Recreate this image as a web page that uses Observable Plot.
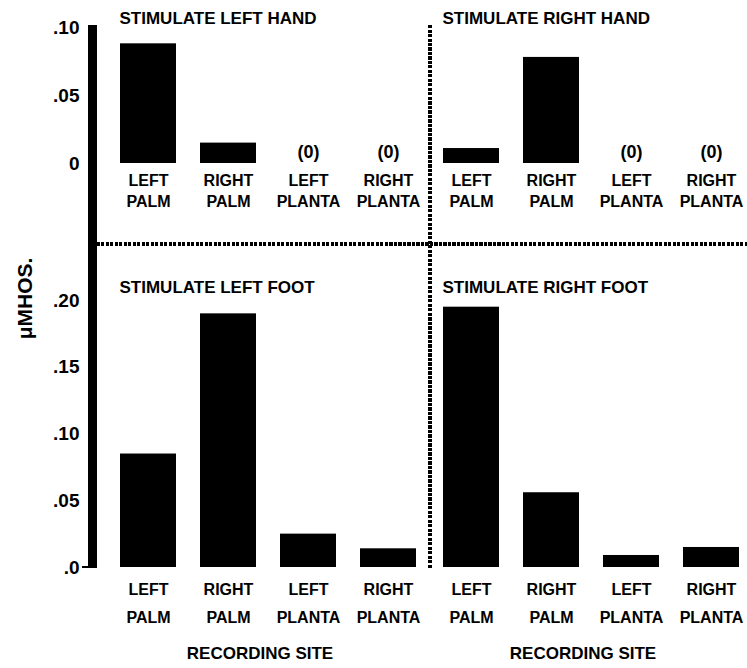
<!DOCTYPE html>
<html>
<head>
<meta charset="utf-8">
<script src="https://cdn.jsdelivr.net/npm/d3@7"></script>
<script src="https://cdn.jsdelivr.net/npm/@observablehq/plot@0.6"></script>
<style>
  html, body { margin: 0; padding: 0; background: white; }
  #chart { position: relative; width: 747px; height: 668px; overflow: hidden; background: white; }
  #chart > svg, #chart > figure { position: absolute; left: 0; margin: 0; }
  .deco { position: absolute; }
</style>
</head>
<body>
<div id="chart"></div>
<script>
// ---- data ----
const sites = ["LEFT PALM", "RIGHT PALM", "LEFT PLANTA", "RIGHT PLANTA"];
const topStimuli = ["LEFT HAND", "RIGHT HAND"];
const bottomStimuli = ["LEFT FOOT", "RIGHT FOOT"];
const stimLeftHand  = [0.088, 0.015, 0, 0];
const stimRightHand = [0.011, 0.078, 0, 0];
const stimLeftFoot  = [0.085, 0.190, 0.025, 0.014];
const stimRightFoot = [0.195, 0.056, 0.009, 0.015];
const topTicks = [0, 0.05, 0.10];
const topTickLabels = ["0", ".05", ".10"];
const bottomTicks = [0, 0.05, 0.10, 0.15, 0.20];
const bottomTickLabels = [".0", ".05", ".10", ".15", ".20"];
const yLabel = "μMHOS.";
const xLabel = "RECORDING SITE";
const titlePrefix = "STIMULATE ";

const topRows = topStimuli.flatMap((s, i) =>
  sites.map((site, j) => ({stim: s, site, value: [stimLeftHand, stimRightHand][i][j]})));
const bottomRows = bottomStimuli.flatMap((s, i) =>
  sites.map((site, j) => ({stim: s, site, value: [stimLeftFoot, stimRightFoot][i][j]})));

const font = "'Liberation Sans', Arial, Helvetica, sans-serif";
const baseStyle = {fontFamily: font, fontWeight: "bold", maxWidth: "none", background: "transparent", color: "black", overflow: "visible"};

const topPlot = Plot.plot({
  width: 752, height: 240,
  marginLeft: 105, marginRight: 0, marginTop: 27, marginBottom: 77,
  style: baseStyle,
  fx: {domain: topStimuli, padding: 0, axis: null, label: null},
  x: {domain: sites, paddingInner: 0.3, paddingOuter: 0.15, label: null},
  y: {domain: [0, 0.1], label: null},
  marks: [
    Plot.barY(topRows, {fx: "stim", x: "site", y: "value", fill: "black"}),
    Plot.text(topRows.filter(d => d.value === 0), {fx: "stim", x: "site", y: "value", text: () => "(0)", dy: -11, fontSize: 18, fontWeight: "bold"}),
    Plot.axisX({tickSize: 0, tickPadding: 7, fontSize: 16, lineHeight: 1.35, fontWeight: "bold", label: null, tickFormat: d => d.replace(" ", "\n")}),
    Plot.axisY({ticks: topTicks, tickFormat: d => topTickLabels[topTicks.indexOf(d)], tickSize: 0, tickPadding: 27, fontSize: 19, fontWeight: "bold", label: null}),
    Plot.text(topStimuli, {fx: d => d, text: d => titlePrefix + d, frameAnchor: "top-left", lineAnchor: "middle", textAnchor: "start", dx: 13, dy: -8.5, fontSize: 17, fontWeight: "bold"})
  ]
});

const bottomPlot = Plot.plot({
  width: 752, height: 428,
  marginLeft: 105, marginRight: 0, marginTop: 60, marginBottom: 101,
  style: baseStyle,
  fx: {domain: bottomStimuli, padding: 0, label: null},
  x: {domain: sites, paddingInner: 0.3, paddingOuter: 0.15, label: null},
  y: {domain: [0, 0.2], label: null},
  marks: [
    Plot.barY(bottomRows, {fx: "stim", x: "site", y: "value", fill: "black"}),
    Plot.axisX({tickSize: 0, tickPadding: 8, fontSize: 16, lineHeight: 1.75, fontWeight: "bold", label: null, tickFormat: d => d.replace(" ", "\n")}),
    Plot.axisY({ticks: bottomTicks, tickFormat: d => bottomTickLabels[bottomTicks.indexOf(d)], tickSize: 0, tickPadding: 27, fontSize: 19, fontWeight: "bold", label: null}),
    Plot.axisFx({anchor: "bottom", tickSize: 0, tickPadding: 79, dx: -8, fontSize: 17, fontWeight: "bold", label: null, tickFormat: () => xLabel}),
    Plot.text(bottomStimuli, {fx: d => d, text: d => titlePrefix + d, frameAnchor: "top-left", lineAnchor: "middle", textAnchor: "start", dx: 13, dy: -13, fontSize: 17, fontWeight: "bold"}),
    Plot.text([bottomStimuli[0]], {fx: d => d, text: () => yLabel, frameAnchor: "top-left", lineAnchor: "middle", textAnchor: "middle", rotate: -90, dx: -81, dy: -2, fontSize: 21, fontWeight: "bold"})
  ]
});

const chart = document.getElementById("chart");
topPlot.style.top = "0px";
bottomPlot.style.top = "240px";
chart.appendChild(topPlot);
chart.appendChild(bottomPlot);

function deco(css) {
  const d = document.createElement("div");
  d.className = "deco";
  Object.assign(d.style, css);
  chart.appendChild(d);
}
// thick left axis line
deco({left: "88px", top: "25px", width: "9px", height: "543px", background: "black"});
// small tick at bottom zero
deco({left: "82px", top: "566px", width: "7px", height: "2px", background: "black"});
// horizontal dotted divider
deco({left: "97px", top: "242px", width: "650px", height: "4px",
  background: "repeating-linear-gradient(to right, black 0 3px, transparent 3px 4.5px)"});
// vertical dotted divider
deco({left: "428px", top: "25px", width: "4px", height: "543px",
  background: "repeating-linear-gradient(to bottom, black 0 3px, transparent 3px 4.5px)"});
</script>
</body>
</html>
